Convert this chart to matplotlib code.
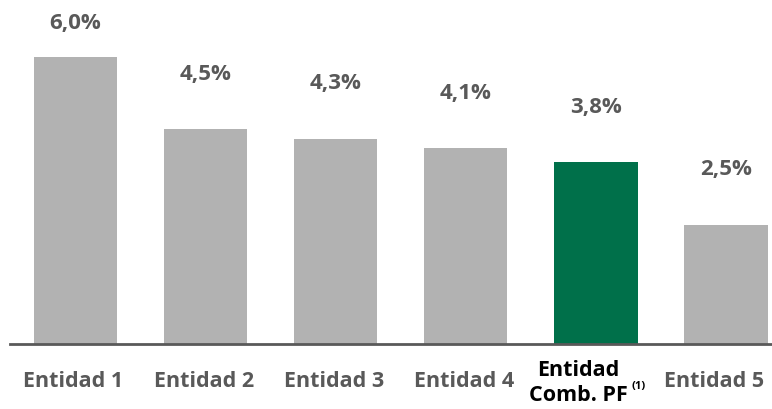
import matplotlib
matplotlib.use("Agg")
import matplotlib.pyplot as plt

categories = ["Entidad 1", "Entidad 2", "Entidad 3", "Entidad 4", "Entidad\nComb. PF", "Entidad 5"]
values = [6.0, 4.5, 4.3, 4.1, 3.8, 2.5]
value_labels = ["6,0%", "4,5%", "4,3%", "4,1%", "3,8%", "2,5%"]
highlight = 4

gray = "#b2b2b2"
green = "#00704a"
text_gray = "#595959"

plt.rcParams['font.family'] = ['Open Sans', 'DejaVu Sans']

fig = plt.figure(figsize=(7.72, 4.10), dpi=100)
ax = fig.add_axes([10/772, 65/410, 762/772, 345/410])

x = list(range(len(values)))
colors = [green if i == highlight else gray for i in x]
ax.bar(x, values, width=0.64, color=colors)

ax.set_xlim(-0.503, 5.353)
ax.set_ylim(0, 7.22)

for i, (v, lab) in enumerate(zip(values, value_labels)):
    y = min(v + 1.17, 6.72)
    ax.text(i, y, lab, ha='center', va='center', fontsize=16,
            fontweight='bold', color=text_gray)

ax.set_xticks([])
ax.set_yticks([])
for s in ['top', 'left', 'right']:
    ax.spines[s].set_visible(False)
ax.spines['bottom'].set_color(text_gray)
ax.spines['bottom'].set_linewidth(2)

tr = ax.get_xaxis_transform()
hl_text = None
for i, c in enumerate(categories):
    col = 'black' if i == highlight else text_gray
    if i == len(categories) - 1:
        xpos, ha = 5.292, 'right'
    elif i == highlight:
        xpos, ha = i - 0.135, 'center'
    else:
        xpos, ha = i - 0.015, 'center'
    t = ax.text(xpos, -0.107 if i != highlight else -0.11, c, ha=ha, va='center',
                fontsize=15.5, fontweight='bold', color=col, transform=tr,
                linespacing=1.3, clip_on=False)
    if i == highlight:
        hl_text = t

fig.canvas.draw()
bb = hl_text.get_window_extent(renderer=fig.canvas.get_renderer())
ax.annotate("(1)", xy=(bb.x1, bb.y0), xycoords='figure pixels',
            xytext=(3, 14), textcoords='offset points', ha='left', va='center',
            fontsize=8, fontweight='bold', color='black', annotation_clip=False)

fig.savefig("out.png", dpi=100)
